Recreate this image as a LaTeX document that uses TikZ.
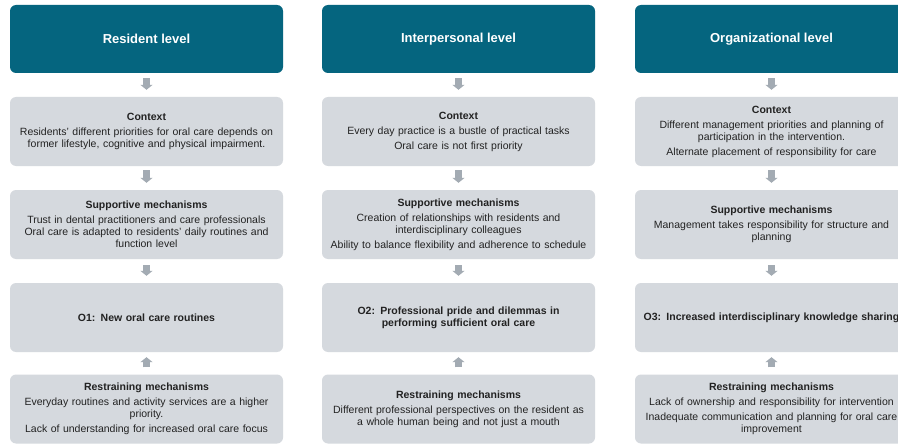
\documentclass[tikz,border=0pt]{standalone}
\usepackage{fontspec}
\setmainfont{Liberation Sans}
\usetikzlibrary{arrows.meta}
\definecolor{levelteal}{HTML}{05657F}
\definecolor{boxgrey}{HTML}{D5D9DE}
\definecolor{flowgrey}{HTML}{A3ABB3}
\definecolor{inkdark}{HTML}{222222}
\tikzset{
  levelbox/.style={fill=levelteal, rounded corners=6pt, minimum width=273pt,
    minimum height=68pt, inner sep=0pt, text=white,
    font=\bfseries\fontsize{13}{15}\selectfont},
  infobox/.style={fill=boxgrey, rounded corners=6pt, minimum width=273pt,
    minimum height=69pt, inner sep=0pt, text width=272pt, align=center,
    text=inkdark, font=\fontsize{10.5}{12}\selectfont},
  flow/.style={draw=flowgrey, line width=7pt,
    -{Triangle[width=12pt,length=5pt]}},
}
\begin{document}
\begin{tikzpicture}[x=1pt,y=-1pt]
\useasboundingbox (0,0) rectangle (898,444);
\fill[white] (0,0) rectangle (898,444);
\clip (0,0) rectangle (898,444);

% column 1: resident level
\node[levelbox] (h1) at (146.5,39) {Resident level};
\node[infobox] (c1) at (146.5,131.5) {\textbf{Context}\\[3pt]
  Residents’ different priorities for oral care depends on\\
  former lifestyle, cognitive and physical impairment.};
\node[infobox] (s1) at (146.5,224.5) {\textbf{Supportive mechanisms}\\[3pt]
  Trust in dental practitioners and care professionals\\
  Oral care is adapted to residents’ daily routines and\\
  function level};
\node[infobox] (o1) at (146.5,317.5) {\textbf{O1: New oral care routines}};
\node[infobox] (r1) at (146.5,409) {\textbf{Restraining mechanisms}\\[3pt]
  Everyday routines and activity services are a higher\\
  priority.\\[3pt]
  Lack of understanding for increased oral care focus};

% column 2: interpersonal level
\node[levelbox] (h2) at (458.5,39) {Interpersonal level};
\node[infobox] (c2) at (458.5,131.5) {\textbf{Context}\\[3pt]
  Every day practice is a bustle of practical tasks\\[3pt]
  Oral care is not first priority};
\node[infobox] (s2) at (458.5,224.5) {\textbf{Supportive mechanisms}\\[3pt]
  Creation of relationships with residents and\\
  interdisciplinary colleagues\\[3pt]
  Ability to balance flexibility and adherence to schedule};
\node[infobox] (o2) at (458.5,317.5) {\textbf{O2: Professional pride and dilemmas in}\\
  \textbf{performing sufficient oral care}};
\node[infobox] (r2) at (458.5,409) {\textbf{Restraining mechanisms}\\[3pt]
  Different professional perspectives on the resident as\\
  a whole human being and not just a mouth};

% column 3: organizational level
\node[levelbox] (h3) at (771.5,39) {Organizational level};
\node[infobox] (c3) at (771.5,131.5) {\textbf{Context}\\[3pt]
  Different management priorities and planning of\\
  participation in the intervention.\\[3pt]
  Alternate placement of responsibility for care};
\node[infobox] (s3) at (771.5,224.5) {\textbf{Supportive mechanisms}\\[3pt]
  Management takes responsibility for structure and\\
  planning};
\node[infobox] (o3) at (771.5,317.5) {\textbf{O3: Increased interdisciplinary knowledge sharing}};
\node[infobox] (r3) at (771.5,409) {\textbf{Restraining mechanisms}\\[3pt]
  Lack of ownership and responsibility for intervention\\[3pt]
  Inadequate communication and planning for oral care\\
  improvement};

% flow arrows between the stages of each column
\foreach \c in {1,2,3} {
  \draw[flow, shorten <=5pt, shorten >=7pt] (h\c) -- (c\c);
  \draw[flow, shorten <=4pt, shorten >=7pt] (c\c) -- (s\c);
  \draw[flow, shorten <=6pt, shorten >=7pt] (s\c) -- (o\c);
  \draw[flow, shorten <=7pt, shorten >=5pt] (r\c) -- (o\c);
}
\end{tikzpicture}
\end{document}
